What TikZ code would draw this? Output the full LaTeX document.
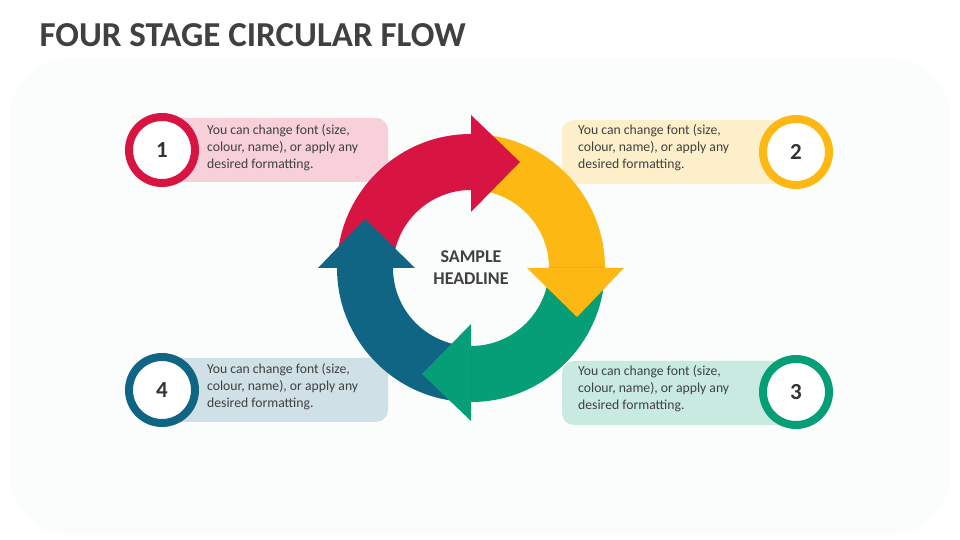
\documentclass[tikz,border=0pt]{standalone}
\usepackage{fontspec}
\setmainfont{Carlito}
\begin{document}
\begin{tikzpicture}[x=1pt,y=1pt,
  box/.style={rounded corners=12pt,inner sep=0pt},
  badge/.style={circle,draw=#1,line width=8pt,fill=white,minimum size=66pt,font=\bfseries\fontsize{23}{25}\selectfont,text=black!80},
  txt/.style={anchor=north west,align=left,font=\fontsize{13.7}{17}\selectfont,text=black!75,inner sep=0pt}]
\definecolor{cR}{HTML}{D81442}\definecolor{cY}{HTML}{FDB813}
\definecolor{cG}{HTML}{069E76}\definecolor{cB}{HTML}{106584}
\useasboundingbox (0,0) rectangle (960,540);
\fill[white] (0,0) rectangle (960,540);
\fill[cyan!30!green!2, rounded corners=60pt] (10,5) rectangle (950,482);
\node[anchor=west,font=\bfseries\fontsize{35}{37}\selectfont,text=black!75] (title) at (36,505) {FOUR STAGE CIRCULAR FLOW};
% boxes
\fill[cR!20,box] (150,358) rectangle (388,422);
\fill[cY!22,box] (562,356) rectangle (800,420);
\fill[cG!22,box] (562,115) rectangle (800,179);
\fill[cB!20,box] (150,118) rectangle (388,182);
\node[txt] (t1) at (207,416) {You can change font (size,\\colour, name), or apply any\\desired formatting.};
\node[txt] (t2) at (578,416) {You can change font (size,\\colour, name), or apply any\\desired formatting.};
\node[txt] (t3) at (578,175) {You can change font (size,\\colour, name), or apply any\\desired formatting.};
\node[txt] (t4) at (207,177) {You can change font (size,\\colour, name), or apply any\\desired formatting.};
\node[badge=cR] (b1) at (162,390) {1};
\node[badge=cY] (b2) at (796,388) {2};
\node[badge=cG] (b3) at (796,148) {3};
\node[badge=cB] (b4) at (162,150) {4};
% ring
\coordinate (C) at (471,272);
\foreach \r/\c in {0/cR,-90/cY,-180/cG,90/cB}{
  \begin{scope}[shift={(C)},rotate=\r]
  \fill[\c] (180:134) arc[start angle=180,end angle=90,radius=134] -- (0,78) arc[start angle=90,end angle=180,radius=78] -- cycle;
  \end{scope}}
\foreach \r/\c in {0/cR,-90/cY,-180/cG,90/cB}{
  \begin{scope}[shift={(C)},rotate=\r]
  \fill[\c] (0,153) -- (49,106) -- (0,56) -- cycle;
  \end{scope}}
\node[align=center,font=\bfseries\fontsize{18}{22}\selectfont,text=black!75] (head) at (C) {SAMPLE\\HEADLINE};
\end{tikzpicture}
\end{document}
